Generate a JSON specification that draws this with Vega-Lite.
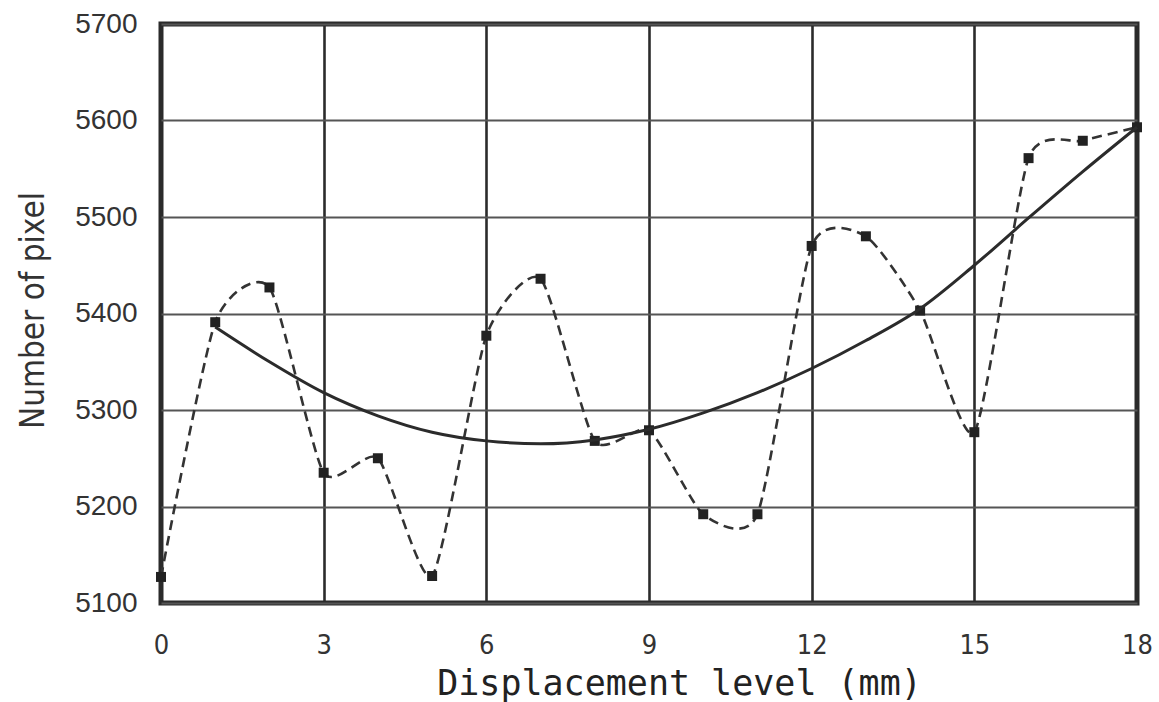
{
  "$schema": "https://vega.github.io/schema/vega-lite/v6.json",
  "width": 976,
  "height": 579,
  "autosize": "none",
  "padding": {"left": 161, "top": 24, "right": 22, "bottom": 99},
  "background": "white",
  "datasets": {
    "measured": [
      {"level": 0, "pixels": 5127},
      {"level": 1, "pixels": 5391},
      {"level": 2, "pixels": 5427},
      {"level": 3, "pixels": 5235},
      {"level": 4, "pixels": 5250},
      {"level": 5, "pixels": 5128},
      {"level": 6, "pixels": 5377},
      {"level": 7, "pixels": 5436},
      {"level": 8, "pixels": 5268},
      {"level": 9, "pixels": 5279},
      {"level": 10, "pixels": 5192},
      {"level": 11, "pixels": 5192},
      {"level": 12, "pixels": 5470},
      {"level": 13, "pixels": 5480},
      {"level": 14, "pixels": 5403},
      {"level": 15, "pixels": 5277},
      {"level": 16, "pixels": 5561},
      {"level": 17, "pixels": 5579},
      {"level": 18, "pixels": 5593}
    ],
    "trend": [
      {"level": 1, "pixels": 5386},
      {"level": 2, "pixels": 5350},
      {"level": 3, "pixels": 5318},
      {"level": 4, "pixels": 5294},
      {"level": 5, "pixels": 5277},
      {"level": 6, "pixels": 5268},
      {"level": 7, "pixels": 5265},
      {"level": 8, "pixels": 5269},
      {"level": 9, "pixels": 5280},
      {"level": 10, "pixels": 5297},
      {"level": 11, "pixels": 5318},
      {"level": 12, "pixels": 5343},
      {"level": 13, "pixels": 5372},
      {"level": 14, "pixels": 5405},
      {"level": 15, "pixels": 5450},
      {"level": 16, "pixels": 5499},
      {"level": 17, "pixels": 5547},
      {"level": 18, "pixels": 5593}
    ]
  },
  "config": {
    "view": {"stroke": "#2b2b2b", "strokeWidth": 5},
    "axis": {"domain": false, "ticks": false}
  },
  "encoding": {
    "x": {
      "field": "level",
      "type": "quantitative",
      "scale": {"domain": [0, 18], "nice": false, "zero": false},
      "axis": {
        "values": [0, 3, 6, 9, 12, 15, 18],
        "title": "Displacement level (mm)",
        "grid": true,
        "gridColor": "#2b2b2b",
        "gridWidth": 2.6,
        "labelFont": "Liberation Sans Narrow, DejaVu Sans Condensed, Arial Narrow, sans-serif",
        "labelFontSize": 27,
        "labelColor": "#333333",
        "labelPadding": 29,
        "labelBaseline": "top",
        "labelFlush": false,
        "titleFont": "DejaVu Sans Mono",
        "titleFontSize": 35,
        "titleFontWeight": "normal",
        "titleColor": "#222222",
        "titleX": 518,
        "titleY": 91,
        "titleAlign": "center",
        "titleBaseline": "alphabetic"
      }
    },
    "y": {
      "field": "pixels",
      "type": "quantitative",
      "scale": {"domain": [5100, 5700], "nice": false, "zero": false},
      "axis": {
        "values": [5100, 5200, 5300, 5400, 5500, 5600, 5700],
        "format": "d",
        "title": "Number of pixel",
        "grid": true,
        "gridColor": "#555555",
        "gridWidth": 2,
        "labelFont": "Liberation Sans",
        "labelFontSize": 28,
        "labelColor": "#333333",
        "labelPadding": 24,
        "labelFlush": false,
        "titleFont": "Liberation Sans Narrow, DejaVu Sans Condensed, Arial Narrow, sans-serif",
        "titleFontSize": 33,
        "titleFontWeight": "normal",
        "titleColor": "#333333",
        "titleAngle": 270,
        "titleX": -128,
        "titleY": 286,
        "titleAlign": "center",
        "titleBaseline": "middle"
      }
    }
  },
  "layer": [
    {
      "data": {"name": "measured"},
      "mark": {"type": "line", "interpolate": "cardinal", "tension": 0.38, "strokeDash": [10, 6], "strokeWidth": 2.6, "color": "#333333", "clip": true}
    },
    {
      "data": {"name": "measured"},
      "mark": {"type": "square", "size": 100, "filled": true, "opacity": 1, "color": "#222222"}
    },
    {
      "data": {"name": "trend"},
      "mark": {"type": "line", "interpolate": "monotone", "strokeWidth": 3, "color": "#2b2b2b"}
    }
  ]
}
